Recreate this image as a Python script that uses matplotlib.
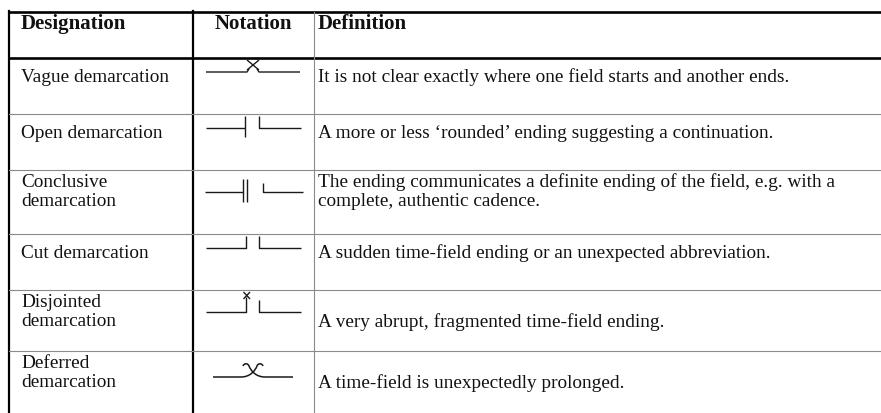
import matplotlib.pyplot as plt
from matplotlib.path import Path
from matplotlib.patches import PathPatch

# table content
headers = ['Designation', 'Notation', 'Definition']
designations = ['Vague demarcation', 'Open demarcation', 'Conclusive\ndemarcation',
                'Cut demarcation', 'Disjointed\ndemarcation', 'Deferred\ndemarcation']
notations = ['vague', 'open', 'conclusive', 'cut', 'disjointed', 'deferred']
definitions = [
    'It is not clear exactly where one field starts and another ends.',
    'A more or less \u2018rounded\u2019 ending suggesting a continuation.',
    'The ending communicates a definite ending of the field, e.g. with a\ncomplete, authentic cadence.',
    'A sudden time-field ending or an unexpected abbreviation.',
    'A very abrupt, fragmented time-field ending.',
    'A time-field is unexpectedly prolonged.',
]

# layout (pixels)
W, H = 881, 414
row_tops = [59, 115, 171, 235, 291, 352]
col_x = [9, 193, 314]
sym_y = [73, 129, 193, 249, 313, 378]

fig = plt.figure(figsize=(W / 100, H / 100), dpi=100)
ax = fig.add_axes([0, 0, 1, 1])
ax.set_xlim(0, W)
ax.set_ylim(H, 0)
ax.axis('off')

serif = 'Liberation Serif'
ink = '#111111'
thin = '#8a8a8a'

# grid lines
ax.plot([col_x[0], W], [13, 13], color='black', lw=1.9, solid_capstyle='butt')
ax.plot([col_x[0], W], [59, 59], color='black', lw=1.9, solid_capstyle='butt')
ax.plot([col_x[0], col_x[0]], [12, H], color='black', lw=1.6)
ax.plot([col_x[1], col_x[1]], [12, H], color='black', lw=1.6)
ax.plot([col_x[2], col_x[2]], [13, H], color=thin, lw=0.8)
for t in row_tops[1:]:
    ax.plot([col_x[0], W], [t, t], color=thin, lw=0.8)

# header
hfs = 15.0
ax.text(21, 29, headers[0], family=serif, weight='bold', fontsize=hfs, color=ink, va='baseline')
ax.text(253.5, 29, headers[1], family=serif, weight='bold', fontsize=hfs, color=ink, va='baseline', ha='center')
ax.text(318, 29, headers[2], family=serif, weight='bold', fontsize=hfs, color=ink, va='baseline')

# body text
fs = 13.85
for i, (des, dfn) in enumerate(zip(designations, definitions)):
    top = row_tops[i]
    lines = des.split('\n')
    if len(lines) == 1:
        ax.text(21, top + 23, lines[0], family=serif, fontsize=fs, color=ink, va='baseline')
    else:
        for k, ln in enumerate(lines):
            ax.text(21, top + 16 + 19 * k, ln, family=serif, fontsize=fs, color=ink, va='baseline')
    dl = dfn.split('\n')
    if len(dl) == 1:
        base = top + 23 if len(lines) == 1 else top + 36
        ax.text(318, base, dl[0], family=serif, fontsize=fs, color=ink, va='baseline')
    else:
        for k, ln in enumerate(dl):
            ax.text(318, top + 16 + 19 * k, ln, family=serif, fontsize=fs, color=ink, va='baseline')

# notation symbols
kw = dict(color='#1a1a1a', lw=1.0, solid_capstyle='butt')


def right_corner(y, x0=259, top=12, x1=301):
    ax.plot([x0, x0, x1], [y - top, y, y], **kw)


for name, y in zip(notations, sym_y):
    if name == 'vague':
        ax.plot([206, 247, 249], [y, y, y - 3], **kw)
        ax.plot([247, 259], [y - 12, y - 2], **kw)
        ax.plot([259, 247], [y - 12, y - 2], **kw)
        ax.plot([257, 259, 300], [y - 3, y, y], **kw)
    elif name == 'open':
        ax.plot([206, 245], [y, y], **kw)
        ax.plot([245, 245], [y - 12, y + 9], **kw)
        right_corner(y)
    elif name == 'conclusive':
        ax.plot([205, 243], [y, y], **kw)
        ax.plot([243, 243], [y - 13, y + 10], **kw)
        ax.plot([247, 247], [y - 13, y + 10], **kw)
        right_corner(y, x0=263, top=9, x1=303)
    elif name == 'cut':
        ax.plot([206, 246, 246], [y, y, y - 12], **kw)
        right_corner(y)
    elif name == 'disjointed':
        ax.plot([206, 246, 246], [y, y, y - 15], **kw)
        ax.plot([243.5, 250], [y - 20, y - 13], **kw)
        ax.plot([250, 243.5], [y - 20, y - 13], **kw)
        right_corner(y)
    elif name == 'deferred':
        verts = [(213, y), (241, y), (250, y), (255, y - 6), (257, y - 11),
                 (258, y - 14), (262, y - 14), (263, y - 11)]
        codes = [Path.MOVETO, Path.LINETO, Path.CURVE4, Path.CURVE4, Path.CURVE4,
                 Path.CURVE4, Path.CURVE4, Path.CURVE4]
        ax.add_patch(PathPatch(Path(verts, codes), fill=False, ec='#1a1a1a', lw=1.1))
        verts2 = [(506 - vx, vy) for vx, vy in verts]
        ax.add_patch(PathPatch(Path(verts2, codes), fill=False, ec='#1a1a1a', lw=1.1))

fig.savefig('out.png', dpi=100, facecolor='white')
